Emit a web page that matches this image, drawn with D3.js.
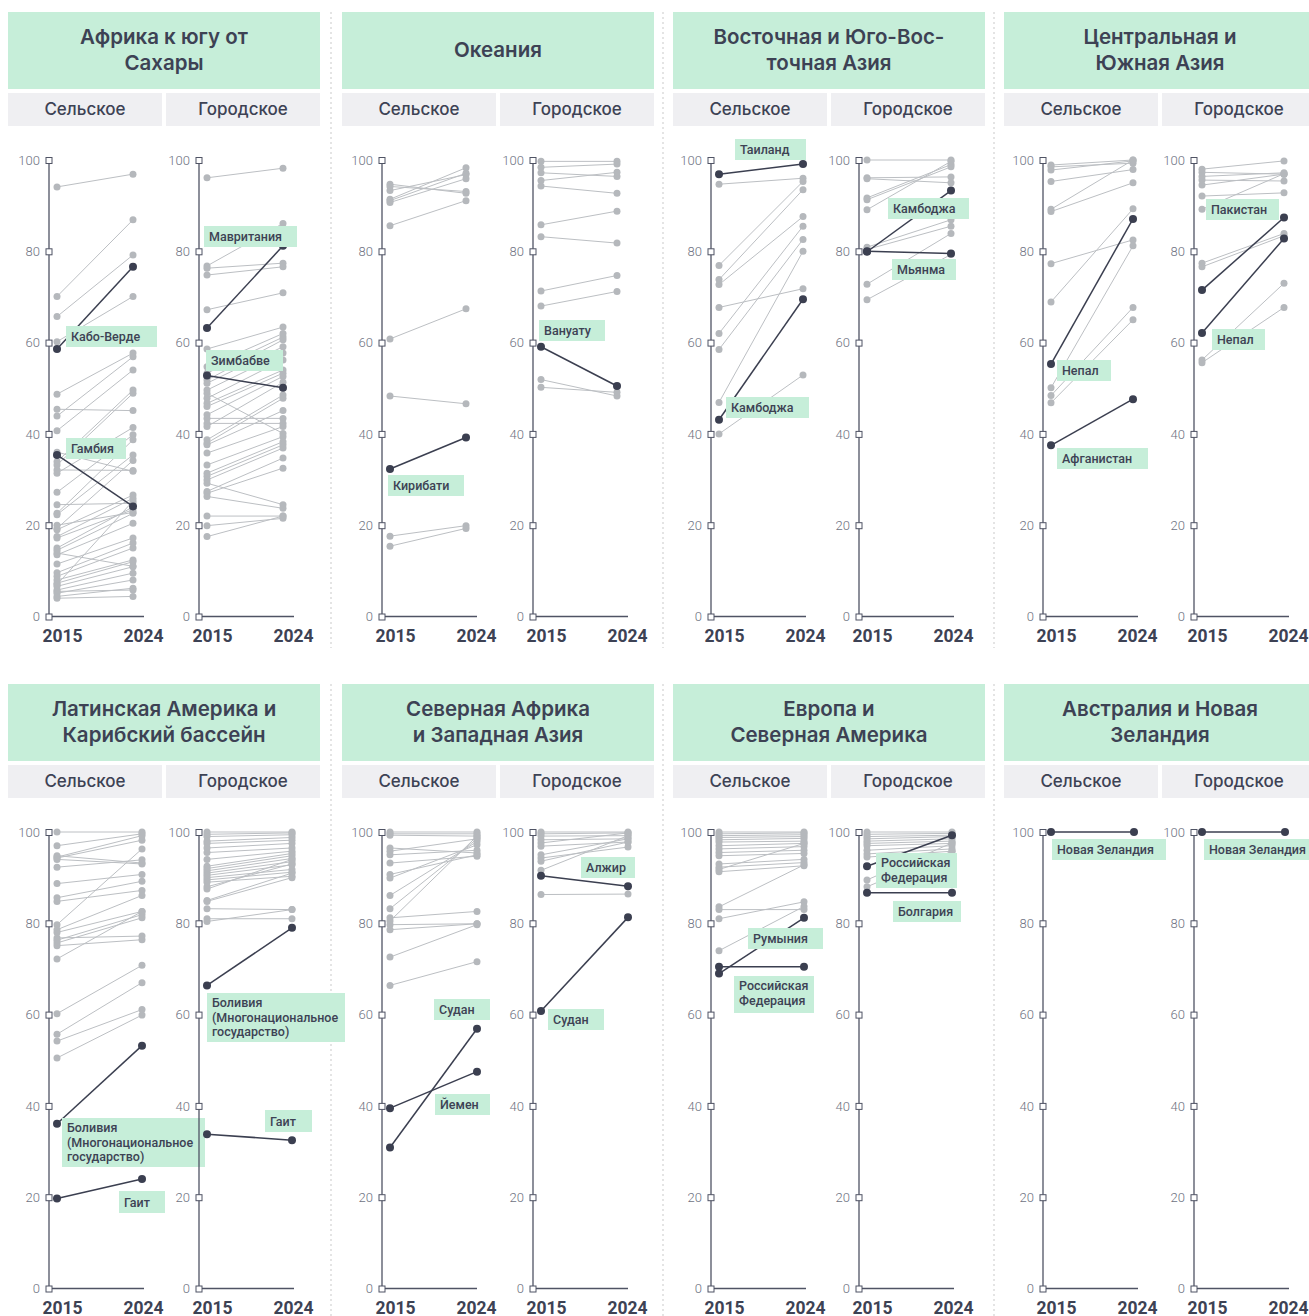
<!DOCTYPE html>
<html><head><meta charset="utf-8">
<script src="https://cdn.jsdelivr.net/npm/d3@7"></script>
<style>
body{margin:0;background:#fff;}
svg{display:block;font-family:Roboto,"Noto Sans",sans-serif;}
</style></head><body><svg id="c" width="1309" height="1316"></svg>
<script>
// ---------------- DATA ----------------
const years = ["2015", "2024"];
const yTicks = [0, 20, 40, 60, 80, 100];
const areaTypes = ["Сельское", "Городское"];
const regionTitles = [
  ["Африка к югу от", "Сахары"],
  ["Океания"],
  ["Восточная и Юго-Вос-", "точная Азия"],
  ["Центральная и", "Южная Азия"],
  ["Латинская Америка и", "Карибский бассейн"],
  ["Северная Африка", "и Западная Азия"],
  ["Европа и", "Северная Америка"],
  ["Австралия и Новая", "Зеландия"]
];

// grey country series: [2015, 2024]
const ssaRural = [[94.1,96.9],[70.1,86.9],[65.7,79.2],[60.2,70.1],[48.7,57.7],[45.4,45.1],[43.9,56.9],[40.7,54.0],[33.9,49.6],[33.2,48.9],[32.1,32.0],[31.4,41.4],[27.2,39.8],[24.5,24.8],[22.6,38.7],[22.3,35.4],[19.3,34.2],[19.0,26.6],[17.5,25.9],[17.2,23.4],[15.0,24.0],[14.5,22.6],[13.9,11.0],[13.5,20.4],[11.5,17.2],[9.6,16.1],[8.8,15.0],[8.0,12.4],[7.3,12.0],[6.6,10.9],[5.8,9.5],[5.5,5.8],[5.1,8.0],[4.4,6.2],[4.0,4.4],[36.0,31.8],[20.0,22.8],[7.0,25.3]];
const ssaUrban = [[96.1,98.2],[76.8,86.1],[76.3,77.4],[74.8,76.6],[67.2,70.9],[58.6,63.4],[54.7,62.0],[53.3,61.2],[51.8,60.6],[51.1,59.1],[49.6,57.7],[48.9,40.1],[47.8,56.2],[46.7,54.0],[46.0,53.3],[44.2,52.6],[43.4,43.4],[42.3,42.3],[41.6,51.3],[38.7,48.5],[38.0,47.8],[37.6,45.1],[35.8,41.6],[33.2,39.4],[31.4,38.3],[30.7,37.6],[29.9,36.9],[29.2,24.5],[27.4,34.7],[27.0,32.5],[26.3,23.7],[22.0,22.0],[19.9,21.5],[17.5,22.0]];
const oceRural = [[94.7,92.7],[94.2,93.1],[93.3,96.8],[91.4,98.3],[91.1,97.1],[90.7,95.9],[85.6,91.1],[60.8,67.4],[48.3,46.6],[17.6,19.9],[15.4,19.3]];
const oceUrban = [[99.7,99.7],[98.4,99.1],[97.2,96.4],[95.5,97.3],[94.3,92.7],[85.8,88.8],[83.2,81.8],[71.3,74.7],[68.0,71.2],[51.9,48.3],[50.2,49.1]];
const easRural = [[94.7,96.0],[76.9,95.3],[73.8,93.5],[72.7,87.6],[67.7,71.8],[62.0,85.5],[58.5,82.6],[46.9,80.0],[40.0,52.9]];
const easUrban = [[100,100],[96.1,96.3],[95.9,95.0],[91.7,99.0],[91.3,98.5],[89.1,99.7],[80.9,86.9],[80.4,85.5],[72.8,83.9],[69.4,79.3]];
const csaRural = [[98.9,100],[98.5,99.3],[97.8,99.8],[95.3,97.9],[89.2,100],[88.7,95.0],[77.3,82.5],[68.9,89.3],[50.1,81.2],[48.4,67.7],[46.8,65.0]];
const csaUrban = [[98.0,99.8],[97.3,96.9],[96.4,97.2],[95.6,95.4],[94.5,96.9],[92.1,92.8],[89.2,97.0],[77.4,83.9],[76.6,83.4],[56.2,73.0],[55.6,67.7]];
const lacRural = [[100,100],[97.0,99.6],[94.8,93.2],[94.3,98.2],[92.3,93.9],[88.7,90.7],[85.6,89.2],[84.8,87.2],[79.7,96.3],[78.6,86.1],[78.0,82.6],[76.8,77.2],[76.3,81.9],[75.7,81.2],[75.1,76.4],[72.2,82.6],[60.2,70.8],[55.7,67.0],[54.2,61.1],[50.5,59.9],[94.5,99.2],[94.0,93.0]];
const lacUrban = [[100,100],[99.5,99.8],[99.0,99.4],[98.0,98.8],[97.5,98.2],[96.5,97.5],[95.5,96.5],[94.0,95.8],[92.5,95.3],[92.0,94.8],[91.5,94.2],[91.0,93.5],[90.5,92.8],[90.0,91.8],[89.5,91.2],[89.0,90.3],[88.0,93.0],[87.5,94.0],[85.0,91.0],[84.8,90.0],[83.2,83.0],[81.0,81.0],[80.4,83.0]];
const nawRural = [[100,100],[99.6,99.6],[99.3,99.1],[96.5,95.4],[95.8,98.5],[95.0,96.0],[93.2,94.7],[90.7,95.0],[89.9,97.2],[86.1,97.9],[83.2,98.5],[81.2,82.6],[80.5,99.1],[79.7,79.9],[78.6,79.9],[72.6,79.7],[66.4,71.6]];
const nawUrban = [[100,100],[99.6,99.8],[99.1,99.2],[98.3,98.5],[97.6,99.8],[96.9,97.8],[95.0,98.5],[94.3,96.7],[93.6,97.8],[91.6,99.2],[86.3,86.4]];
const eurRural = [[100,100],[99.6,99.8],[99.2,99.4],[98.8,99.0],[98.3,98.6],[97.8,98.0],[97.0,97.5],[96.3,96.8],[95.5,96.0],[94.8,95.3],[93.0,94.0],[92.3,93.3],[91.8,97.5],[91.3,92.6],[83.6,92.8],[83.0,83.0],[81.0,84.7],[74.0,83.7]];
const eurUrban = [[100,100],[99.5,99.7],[99.0,99.3],[98.5,99.0],[98.0,98.5],[97.5,98.0],[97.0,97.5],[96.0,97.0],[95.2,96.3],[94.5,95.8],[89.5,97.6],[88.0,95.8]];
const ausRural = [];
const ausUrban = [];

// highlighted countries: [2015, 2024]
const ssaRuralHi = [{country:"Кабо-Верде", v:[58.6,76.6]}, {country:"Гамбия", v:[35.4,24.1]}];
const ssaUrbanHi = [{country:"Мавритания", v:[63.2,81.2]}, {country:"Зимбабве", v:[52.8,50.1]}];
const oceRuralHi = [{country:"Кирибати", v:[32.3,39.2]}];
const oceUrbanHi = [{country:"Вануату", v:[59.1,50.5]}];
const easRuralHi = [{country:"Таиланд", v:[96.9,99.1]}, {country:"Камбоджа", v:[43.1,69.5]}];
const easUrbanHi = [{country:"Камбоджа", v:[79.9,93.3]}, {country:"Мьянма", v:[80.0,79.5]}];
const csaRuralHi = [{country:"Непал", v:[55.3,87.1]}, {country:"Афганистан", v:[37.5,47.6]}];
const csaUrbanHi = [{country:"Пакистан", v:[71.5,87.4]}, {country:"Непал", v:[62.1,82.8]}];
const lacRuralHi = [{country:"Боливия (Многонациональное государство)", v:[36.1,53.2]}, {country:"Гаит", v:[19.7,24.0]}];
const lacUrbanHi = [{country:"Боливия (Многонациональное государство)", v:[66.4,79.0]}, {country:"Гаит", v:[33.8,32.5]}];
const nawRuralHi = [{country:"Судан", v:[30.9,56.9]}, {country:"Йемен", v:[39.5,47.5]}];
const nawUrbanHi = [{country:"Алжир", v:[90.4,88.1]}, {country:"Судан", v:[60.8,81.3]}];
const eurRuralHi = [{country:"Румыния", v:[69.0,81.2]}, {country:"Российская Федерация", v:[70.5,70.5]}];
const eurUrbanHi = [{country:"Российская Федерация", v:[92.5,99.3]}, {country:"Болгария", v:[86.7,86.7]}];
const ausRuralHi = [{country:"Новая Зеландия", v:[100,100]}];
const ausUrbanHi = [{country:"Новая Зеландия", v:[100,100]}];

// ---------------- LAYOUT (positions / styles) ----------------
const panels = [
  {rural:[ssaRural,ssaRuralHi], urban:[ssaUrban,ssaUrbanHi]},
  {rural:[oceRural,oceRuralHi], urban:[oceUrban,oceUrbanHi]},
  {rural:[easRural,easRuralHi], urban:[easUrban,easUrbanHi]},
  {rural:[csaRural,csaRuralHi], urban:[csaUrban,csaUrbanHi]},
  {rural:[lacRural,lacRuralHi], urban:[lacUrban,lacUrbanHi]},
  {rural:[nawRural,nawRuralHi], urban:[nawUrban,nawUrbanHi]},
  {rural:[eurRural,eurRuralHi], urban:[eurUrban,eurUrbanHi]},
  {rural:[ausRural,ausRuralHi], urban:[ausUrban,ausUrbanHi]}
];
const colLeft = [8, 342, 673, 1004];
const colWidth = 312;
const rowTop = [12, 684];
const axisRuralX = [49, 382, 711, 1043];
const axisUrbanX = [199, 533, 859, 1194];
const endOffset = [84, 84, 92, 90, 93, 95, 93, 91];
const separatorsX = [331, 663, 994];
// label boxes: [dx from axis, dy from y(100), width, height]
const labelBoxes = [
  {rural:[[17,166,91,21],[17,278,60,21]], urban:[[5,66,93,21],[7,190,77,21]]},
  {rural:[[6,315,76,21]], urban:[[6,160,66,21]]},
  {rural:[[24,-21,71,21],[15,237,83,21]], urban:[[29,38,81,21],[33,99,64,21]]},
  {rural:[[14,200,54,21],[14,288,91,21]], urban:[[12,39,73,21],[18,169,53,21]]},
  {rural:[[13,286,143,49],[70,359,46,22]], urban:[[8,161,138,49],[66,278,47,22]]},
  {rural:[[52,167,56,21],[53,262,55,21]], urban:[[48,25,54,21],[15,177,56,21]]},
  {rural:[[37,96,75,21],[23,144,80,37]], urban:[[17,21,81,35],[34,69,68,21]]},
  {rural:[[9,7,114,21]], urban:[[10,7,105,21]]}
];

const C = {
  green:"#c6eed9", sub:"#efeff2", text:"#3d4254", tick:"#6e7282",
  axis:"#4f5364", grey:"#b5b8bc", greyLine:"#bcbfc3", dark:"#3b3f50", sep:"#c9c9c9"
};
const plotH = 456.5;

const svg = d3.select("#c");

// separators
separatorsX.forEach(x => {
  [[12, 648], [684, 1316]].forEach(([a, b]) => {
    svg.append("line").attr("x1", x).attr("x2", x).attr("y1", a).attr("y2", b)
      .attr("stroke", C.sep).attr("stroke-width", 1).attr("stroke-dasharray", "2,3");
  });
});

panels.forEach((p, i) => {
  const col = i % 4, row = Math.floor(i / 4);
  const left = colLeft[col], top = rowTop[row];
  const g = svg.append("g");
  // header
  g.append("rect").attr("x", left).attr("y", top).attr("width", colWidth).attr("height", 77).attr("fill", C.green);
  const tl = regionTitles[i];
  tl.forEach((t, k) => {
    const yy = tl.length === 1 ? top + 45 : top + 32 + k * 26;
    g.append("text").attr("x", left + colWidth / 2).attr("y", yy).attr("text-anchor", "middle")
      .attr("font-family", "Inter").attr("font-size", 20.5).attr("font-weight", 600)
      .attr("fill", C.text).text(t);
  });
  // subheaders
  areaTypes.forEach((a, k) => {
    const sx = left + k * 158;
    g.append("rect").attr("x", sx).attr("y", top + 81).attr("width", 154).attr("height", 33).attr("fill", C.sub);
    g.append("text").attr("x", sx + 77).attr("y", top + 103).attr("text-anchor", "middle")
      .attr("font-family", "Inter").attr("font-size", 17).attr("font-weight", 500)
      .attr("fill", C.text).text(a);
  });
  const yTop = top + 148;
  drawSlope(g, axisRuralX[col], yTop, p.rural[0], p.rural[1], labelBoxes[i].rural, endOffset[i]);
  drawSlope(g, axisUrbanX[col], yTop, p.urban[0], p.urban[1], labelBoxes[i].urban, endOffset[i]);
});

function drawSlope(g, ax, yTop, grey, hi, boxes, endOff) {
  const y = d3.scaleLinear().domain([0, 100]).range([yTop + plotH, yTop]);
  const x = d3.scalePoint().domain(years).range([ax + 8, ax + endOff]);
  const xl = d3.scalePoint().domain(years).range([ax + 13, ax + 94]);
  const gg = g.append("g");
  // axis lines
  gg.append("line").attr("x1", ax).attr("x2", ax).attr("y1", y(0)).attr("y2", y(100))
    .attr("stroke", C.axis).attr("stroke-width", 1.3);
  gg.append("line").attr("x1", ax).attr("x2", ax + 95).attr("y1", y(0)).attr("y2", y(0))
    .attr("stroke", C.axis).attr("stroke-width", 1.3);
  const line = d3.line().x((d, k) => x(years[k])).y(d => y(d));
  // grey
  gg.append("g").selectAll("path").data(grey).join("path")
    .attr("d", d => line(d)).attr("fill", "none").attr("stroke", C.greyLine).attr("stroke-width", 1);
  gg.append("g").selectAll("circle").data(grey.flatMap(d => d.map((v, k) => [k, v]))).join("circle")
    .attr("cx", d => x(years[d[0]])).attr("cy", d => y(d[1])).attr("r", 3.5).attr("fill", C.grey);
  // highlight
  gg.append("g").selectAll("path").data(hi).join("path")
    .attr("d", d => line(d.v)).attr("fill", "none").attr("stroke", C.dark).attr("stroke-width", 1.5);
  gg.append("g").selectAll("circle").data(hi.flatMap(d => d.v.map((v, k) => [k, v]))).join("circle")
    .attr("cx", d => x(years[d[0]])).attr("cy", d => y(d[1])).attr("r", 4).attr("fill", C.dark);
  // y axis ticks
  const yA = gg.append("g").attr("transform", `translate(${ax},0)`)
    .call(d3.axisLeft(y).tickValues(yTicks).tickSize(0).tickPadding(9));
  yA.select(".domain").remove();
  yA.selectAll(".tick text").attr("font-size", 13).attr("font-weight", 300)
    .attr("font-family", "Roboto").attr("fill", C.tick);
  yA.selectAll(".tick").append("rect").attr("x", -3).attr("y", -3).attr("width", 6).attr("height", 6)
    .attr("fill", "#fff").attr("stroke", C.axis).attr("stroke-width", 1);
  // x axis labels
  const xA = gg.append("g").attr("transform", `translate(0,${y(0)})`)
    .call(d3.axisBottom(xl).tickSize(0));
  xA.select(".domain").remove();
  xA.selectAll(".tick text").attr("y", 25).attr("dy", 0).attr("font-size", 17.5).attr("font-weight", 700)
    .attr("font-family", "Roboto").attr("fill", C.text);
  // labels
  hi.forEach((h, k) => {
    const b = boxes[k];
    if (!b) return;
    const bx = ax + b[0], by = yTop + b[1];
    gg.append("rect").attr("x", bx).attr("y", by).attr("width", b[2]).attr("height", b[3]).attr("fill", C.green);
    const t = gg.append("text").attr("font-size", 12.5).attr("font-weight", 500).attr("fill", C.text);
    const words = h.country.split(" ");
    const lines = [];
    let cur = "";
    const maxW = b[2] - 6;
    const probe = gg.append("text").attr("font-size", 12.5).attr("font-weight", 500);
    words.forEach(w => {
      const trial = cur ? cur + " " + w : w;
      probe.text(trial);
      if (cur && probe.node().getComputedTextLength() > maxW && b[3] > 25) { lines.push(cur); cur = w; }
      else cur = trial;
    });
    lines.push(cur);
    probe.remove();
    const y0 = lines.length === 1 ? by + b[3] / 2 + 4.5 : by + 14;
    lines.forEach((ln, j) => {
      t.append("tspan").attr("x", bx + 5).attr("y", y0 + j * 14.5).text(ln);
    });
  });
}
</script>
</body></html>
